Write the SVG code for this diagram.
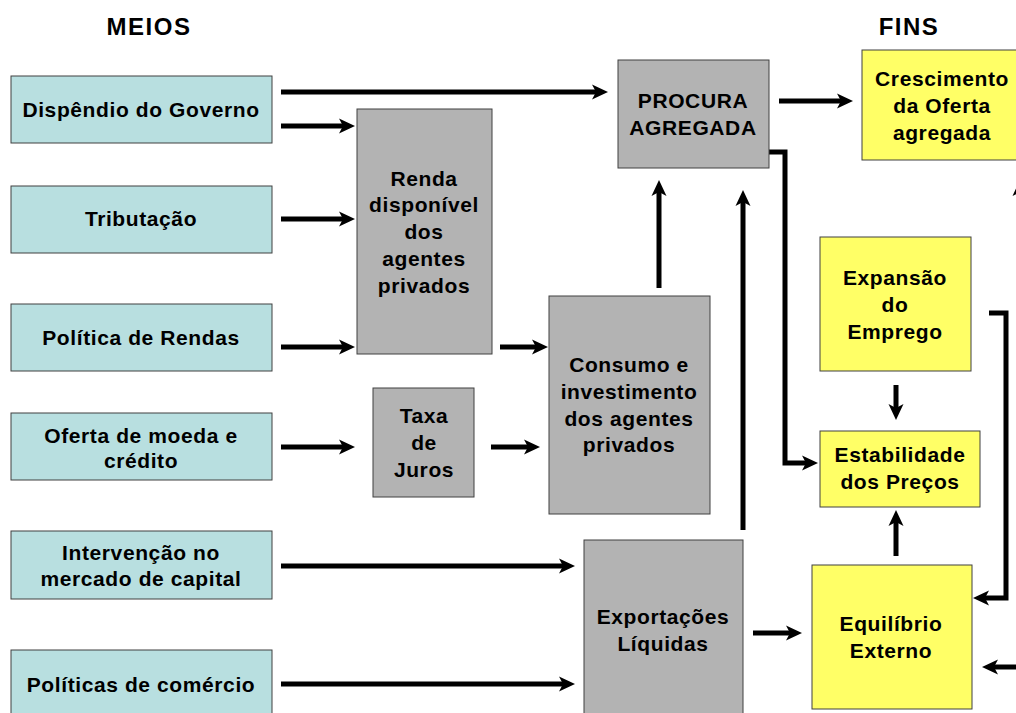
<svg xmlns="http://www.w3.org/2000/svg" width="1016" height="713" viewBox="0 0 1016 713">
<style>
text{font-family:"Liberation Sans",Arial,sans-serif;font-weight:bold;font-size:21px;letter-spacing:0.6px;fill:#000;text-anchor:middle}
.blue{fill:#B8DFE0;stroke:#404040;stroke-width:1}
.gray{fill:#B3B3B3;stroke:#404040;stroke-width:1}
.yel{fill:#FFFF66;stroke:#404040;stroke-width:1}
.c{fill:none;stroke:#000;stroke-width:5;marker-end:url(#ah)}
.h{font-size:24px;letter-spacing:1.5px}
</style>
<defs>
<marker id="ah" markerUnits="userSpaceOnUse" markerWidth="18" markerHeight="16" refX="4" refY="8" orient="auto" viewBox="0 0 18 16">
<path d="M0,0.5 L16,8 L0,15.5 L4,8 Z" fill="#000"/>
</marker>
</defs>
<text class="h" x="149" y="35">MEIOS</text>
<text class="h" x="909" y="35">FINS</text>
<g id="connectors">
<path class="c" d="M281,92 H596"/>
<path class="c" d="M281,126 H343"/>
<path class="c" d="M281,219 H343"/>
<path class="c" d="M281,347 H343"/>
<path class="c" d="M500,347 H536"/>
<path class="c" d="M281,447 H343"/>
<path class="c" d="M491,447 H528"/>
<path class="c" d="M281,566 H563"/>
<path class="c" d="M281,684 H563"/>
<path class="c" d="M659,288 V192"/>
<path class="c" d="M743,530 V202"/>
<path class="c" d="M779,101 H841"/>
<path class="c" d="M769,152 H785 V463 H806"/>
<path class="c" d="M753,633 H790"/>
<path class="c" d="M896,385 V408"/>
<path class="c" d="M896,556 V522"/>
<path class="c" d="M989,313 H1006 V598 H985"/>
<path class="c" d="M1020,667 H994"/>
<path class="c" d="M1020,230 V192"/>
</g>
<g id="n-dispendio"><rect class="blue" x="11" y="76" width="261" height="67"/><text x="141" y="117">Dispêndio do Governo</text></g>
<g id="n-tributacao"><rect class="blue" x="11" y="186" width="261" height="67"/><text x="141" y="226">Tributação</text></g>
<g id="n-politica-rendas"><rect class="blue" x="11" y="304" width="261" height="67"/><text x="141" y="345">Política de Rendas</text></g>
<g id="n-oferta-moeda"><rect class="blue" x="11" y="413" width="261" height="67"/><text x="141" y="443">Oferta de moeda e</text><text x="141" y="468">crédito</text></g>
<g id="n-intervencao"><rect class="blue" x="11" y="531" width="261" height="68"/><text x="141" y="560">Intervenção no</text><text x="141" y="586">mercado de capital</text></g>
<g id="n-comercio"><rect class="blue" x="11" y="650" width="261" height="70"/><text x="141" y="692">Políticas de comércio</text></g>
<g id="n-renda"><rect class="gray" x="357" y="109" width="135" height="245"/><text x="424" y="186">Renda</text><text x="424" y="212">disponível</text><text x="424" y="239">dos</text><text x="424" y="266">agentes</text><text x="424" y="293">privados</text></g>
<g id="n-taxa"><rect class="gray" x="373" y="388" width="101" height="109"/><text x="424" y="423">Taxa</text><text x="424" y="450">de</text><text x="424" y="477">Juros</text></g>
<g id="n-procura"><rect class="gray" x="618" y="60" width="151" height="108"/><text x="693" y="108">PROCURA</text><text x="693" y="135">AGREGADA</text></g>
<g id="n-consumo"><rect class="gray" x="549" y="296" width="161" height="218"/><text x="629" y="372">Consumo e</text><text x="629" y="399">investimento</text><text x="629" y="426">dos agentes</text><text x="629" y="452">privados</text></g>
<g id="n-exportacoes"><rect class="gray" x="584" y="540" width="159" height="180"/><text x="663" y="624">Exportações</text><text x="663" y="651">Líquidas</text></g>
<g id="n-crescimento"><rect class="yel" x="862" y="50" width="170" height="110"/><text x="942" y="86">Crescimento</text><text x="942" y="113">da Oferta</text><text x="942" y="140">agregada</text></g>
<g id="n-expansao"><rect class="yel" x="820" y="237" width="151" height="134"/><text x="895" y="285">Expansão</text><text x="895" y="312">do</text><text x="895" y="339">Emprego</text></g>
<g id="n-estabilidade"><rect class="yel" x="820" y="431" width="160" height="76"/><text x="900" y="462">Estabilidade</text><text x="900" y="489">dos Preços</text></g>
<g id="n-equilibrio"><rect class="yel" x="812" y="565" width="160" height="144"/><text x="891" y="631">Equilíbrio</text><text x="891" y="658">Externo</text></g>
</svg>
